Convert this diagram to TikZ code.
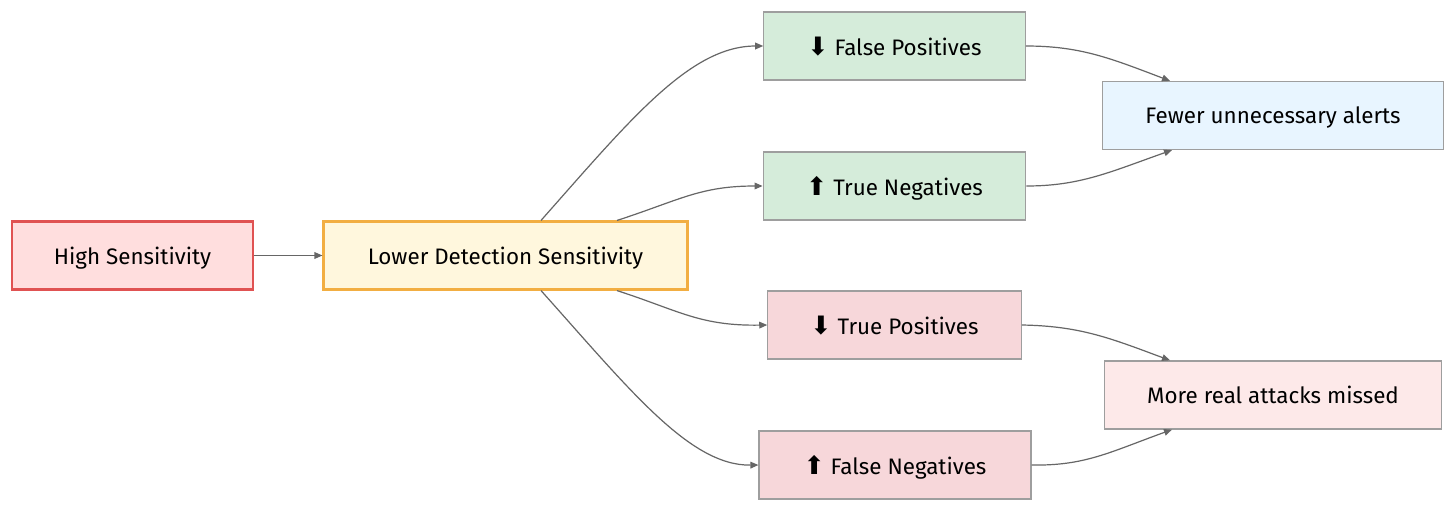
\documentclass[tikz,border=0pt]{standalone}
\usepackage{fontspec}
\setmainfont{Fira Sans}
\newfontfamily\symfont{DejaVu Sans}
\usetikzlibrary{arrows.meta,calc}
\definecolor{edgec}{HTML}{666666}
\definecolor{hifill}{HTML}{FFDEDE}
\definecolor{hidraw}{HTML}{E05252}
\definecolor{lofill}{HTML}{FFF7DD}
\definecolor{lodraw}{HTML}{F2AE42}
\definecolor{grfill}{HTML}{D5ECDA}
\definecolor{rdfill}{HTML}{F7D7DA}
\definecolor{blfill}{HTML}{E8F5FF}
\definecolor{pkfill}{HTML}{FDE9E9}
\definecolor{boxdraw}{HTML}{9E9E9E}
\tikzset{
  box/.style={draw=boxdraw, line width=0.9pt, minimum height=51pt, inner sep=0pt, text depth=0pt, font=\fontsize{16.8}{18}\selectfont},
  edge/.style={draw=edgec, line width=0.9pt, -{Triangle[length=6pt,width=5pt]}},
}
\newcommand{\dn}{{\symfont\fontsize{19}{19}\selectfont ⬇}}
\newcommand{\up}{{\symfont\fontsize{19}{19}\selectfont ⬆}}
\begin{document}
\begin{tikzpicture}[x=0.75pt,y=-0.75pt]
\useasboundingbox[fill=white] (0,0) rectangle (1456,511);
\node[box, draw=hidraw, fill=hifill, line width=1.6pt, minimum width=181pt] (high) at (132.5,255.5) {High Sensitivity};
\node[box, draw=lodraw, fill=lofill, line width=1.6pt, minimum width=273pt] (lower) at (505.5,255.5) {Lower Detection Sensitivity};
\node[box, fill=grfill, minimum width=196pt] (fp) at (894.5,46) {\dn\ False Positives};
\node[box, fill=grfill, minimum width=197pt] (tn) at (894.5,186) {\up\ True Negatives};
\node[box, fill=rdfill, minimum width=190pt] (tp) at (894.5,325) {\dn\ True Positives};
\node[box, fill=rdfill, minimum width=204pt] (fn) at (895,465) {\up\ False Negatives};
\node[box, fill=blfill, minimum width=256pt] (few) at (1273,115.5) {Fewer unnecessary alerts};
\node[box, fill=pkfill, minimum width=253pt] (more) at (1273,395) {More real attacks missed};

\draw[edge] (high) -- (lower);
\draw[edge] ($(lower.north)+(35.5,0)$) .. controls (630,120) and (690,46) .. (fp.west);
\draw[edge] ($(lower.north)+(111.5,0)$) .. controls (680,200) and (700,186) .. (tn.west);
\draw[edge] ($(lower.south)+(111.5,0)$) .. controls (680,311) and (700,326) .. (tp.west);
\draw[edge] ($(lower.south)+(35.5,0)$) .. controls (630,390) and (690,466) .. (fn.west);
\draw[edge] (fp.east) .. controls (1080,46) and (1110,58) .. ($(few.north)+(-103,0)$);
\draw[edge] (tn.east) .. controls (1080,186) and (1110,172) .. ($(few.south)+(-101,0)$);
\draw[edge] (tp.east) .. controls (1080,326) and (1110,338) .. ($(more.north)+(-103,0)$);
\draw[edge] (fn.east) .. controls (1085,466) and (1110,452) .. ($(more.south)+(-101,0)$);
\end{tikzpicture}
\end{document}
